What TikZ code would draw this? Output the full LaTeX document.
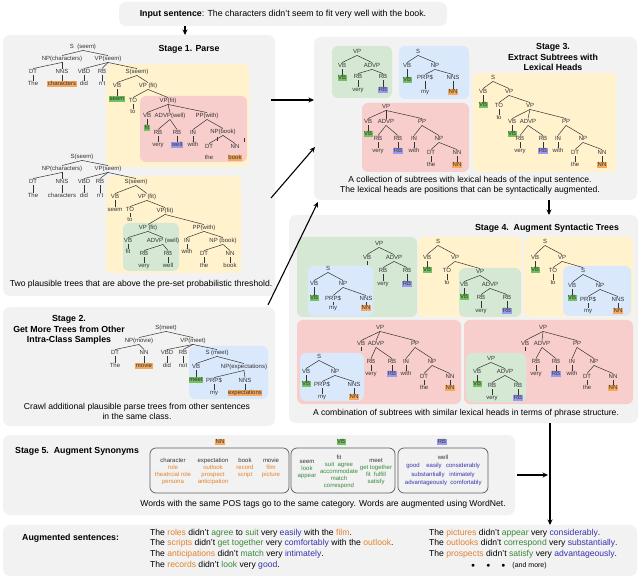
\documentclass[tikz,border=0pt]{standalone}
\usepackage{fontspec}
\setmainfont{Liberation Sans}
\usetikzlibrary{arrows.meta,fit}
\definecolor{cgray}{HTML}{F2F2F2}
\definecolor{cyel}{HTML}{FFF2CC}
\definecolor{cpink}{HTML}{F8CECC}
\definecolor{cgreen}{HTML}{D5E8D4}
\definecolor{cblue}{HTML}{DAE8FC}
\definecolor{hlorange}{HTML}{F5A95C}
\definecolor{hlgreen}{HTML}{72C15E}
\definecolor{hlblue}{HTML}{9999EE}
\definecolor{tor}{HTML}{E3822B}
\definecolor{tgr}{HTML}{38883A}
\definecolor{tbl}{HTML}{3434B0}
\definecolor{ink}{HTML}{333333}
\newcommand\TrN[5][]{\node[tl,#1] (#2) at (#3,#4) {#5};}
\newcommand\TrE[2]{\foreach \tchild in {#2}{\draw[tedge] (#1.south) -- (\tchild.north);}}
\newcommand\PanelBox[6]{\node[#6, fit={(#2,#3) (#4,#5)}, inner sep=0pt, outer sep=0pt] (#1) {};}
\begin{document}
\begin{tikzpicture}[x=1pt,y=-1pt,
  tl/.style={font=\fontsize{6}{7}\selectfont, inner sep=0.5pt, text height=4.3pt, text depth=1.2pt, text=ink},
  hO/.style={fill=hlorange}, hG/.style={fill=hlgreen}, hB/.style={fill=hlblue},
  tedge/.style={line width=0.5pt, ink},
  panel/.style={fill=cgray, rounded corners=7pt},
  ybox/.style={fill=cyel, rounded corners=6pt},
  pbox/.style={fill=cpink, rounded corners=6pt},
  gbox/.style={fill=cgreen, rounded corners=6pt},
  bbox/.style={fill=cblue, rounded corners=6pt},
  catbox/.style={draw=ink!80!white, line width=0.7pt, rounded corners=6pt},
  bigarrow/.style={line width=1.1pt, -{Stealth[length=5.5pt,width=5pt]}},
  ttl/.style={font=\fontsize{8.8}{10.5}\selectfont\bfseries, align=center, inner sep=0pt},
  captx/.style={font=\fontsize{8.6}{10}\selectfont, align=center, inner sep=0pt},
  wrd/.style={font=\fontsize{6}{7}\selectfont, align=center, inner sep=0pt, text=ink},
  sent/.style={font=\fontsize{8.6}{10}\selectfont, anchor=west, inner sep=0pt},
]
\useasboundingbox (0,0) rectangle (640,577);
% ---------- panels ----------
\PanelBox{inp}{119}{2}{447}{26}{panel}
\PanelBox{s1}{3}{35}{275}{296}{panel}
\PanelBox{s2}{3}{307}{275}{426}{panel}
\PanelBox{s3}{314}{37}{637}{200}{panel}
\PanelBox{s4}{289}{215}{638}{423}{panel}
\PanelBox{s5}{3}{435}{515}{515}{panel}
\PanelBox{aug}{3}{525}{637}{576}{panel}
% stage 1 sub boxes
\PanelBox{s1y1}{106}{64}{249}{167}{ybox}
\PanelBox{s1p1}{140}{96}{247}{162}{pbox}
\PanelBox{s1y2}{106}{176}{241}{273}{ybox}
\PanelBox{s1g2}{123}{223}{179}{271}{gbox}
% stage 2 sub box
\PanelBox{s2b}{189}{346}{268}{399}{bbox}
% stage 3 sub boxes
\PanelBox{s3g}{332}{46}{392}{98}{gbox}
\PanelBox{s3b}{399}{46}{469}{99}{bbox}
\PanelBox{s3p}{362}{103}{469}{172}{pbox}
\PanelBox{s3y}{473}{73}{616}{172}{ybox}
% stage 4 sub boxes
\PanelBox{s4a}{297}{237}{417}{317}{gbox}
\PanelBox{s4ai}{308}{266}{373}{316}{bbox}
\PanelBox{s4b}{418}{237}{522}{317}{ybox}
\PanelBox{s4bi}{459}{268}{521}{317}{gbox}
\PanelBox{s4c}{524}{237}{633}{317}{ybox}
\PanelBox{s4ci}{563}{266}{631}{316}{bbox}
\PanelBox{s4d}{297}{320}{461}{404}{pbox}
\PanelBox{s4di}{300}{353}{364}{401}{bbox}
\PanelBox{s4e}{464}{320}{633}{404}{pbox}
\PanelBox{s4ei}{466}{353}{526}{402}{gbox}
% stage 5 category boxes
\PanelBox{nnb}{150}{448}{289}{493}{catbox}
\PanelBox{vbb}{291}{448}{395}{493}{catbox}
\PanelBox{rbb}{398}{448}{488}{493}{catbox}
% ---------- titles and captions ----------
\node[font=\fontsize{8.8}{10}\selectfont, inner sep=0pt] (inptxt) at (283,14) {\textbf{Input sentence}: The characters didn't seem to fit very well with the book.};
\node[ttl] (t1) at (189,49) {Stage 1. Parse};
\node[captx] (c1) at (141,284) {Two plausible trees that are above the pre-set probabilistic threshold.};
\node[ttl] (t2) at (69,330) {Stage 2.\\Get More Trees from Other\\Intra-Class Samples};
\node[captx] (c2) at (137,411) {Crawl additional plausible parse trees from other sentences\\in the same class.};
\node[ttl] (t3) at (553,57) {Stage 3.\\Extract Subtrees with\\Lexical Heads};
\node[captx] (c3) at (470,185.5) {A collection of subtrees with lexical heads of the input sentence.\\The lexical heads are positions that can be syntactically augmented.};
\node[ttl] (t4) at (547,228) {Stage 4.\ \ Augment Syntactic Trees};
\node[captx] (c4) at (466,413) {A combination of subtrees with similar lexical heads in terms of phrase structure.};
\node[ttl, anchor=west] (t5) at (15,451) {Stage 5.\ \ Augment Synonyms};
\node[captx] (c5) at (323,504) {Words with the same POS tags go to the same category. Words are augmented using WordNet.};
\node[ttl, anchor=west] (t6) at (22,538) {Augmented sentences:};
% ---------- arrows ----------
\coordinate (a0) at (185,26); \draw[bigarrow] (a0) -- (a0 |- s1.north);
\coordinate (a1) at (271,100); \draw[bigarrow] (a1) -- (a1 -| s3.west);
\coordinate (a2s) at (271,198); \coordinate (a2e) at (315,147); \draw[bigarrow] (a2s) -- (a2e);
\coordinate (a3s) at (268,305); \coordinate (a3e) at (318,202); \draw[bigarrow] (a3s) -- (a3e);
\coordinate (a4) at (549,200); \draw[bigarrow] (a4) -- (a4 |- s4.north);
\coordinate (a5) at (550,423); \draw[bigarrow] (a5) -- (a5 |- aug.north);
\coordinate (a6) at (517,475); \coordinate (a6e) at (548,475); \draw[bigarrow] (a6) -- (a6e);
% ---------- Stage 1, tree 1 ----------
\TrN{aS}{83}{47}{S\ \ (seem)}
\TrN{aNP}{62}{59}{NP(characters)}
\TrN{aVP}{108}{59}{VP(seem)}
\TrN{aDT}{33}{72}{DT} \TrN{aThe}{33}{84}{The}
\TrN{aNNS}{62}{72}{NNS} \TrN[hO]{achar}{62}{84}{characters}
\TrN{aVBD}{84}{72}{VBD} \TrN{adid}{84}{84}{did}
\TrN{aRB}{102}{72}{RB} \TrN{ant}{102}{84}{n't}
\TrN{aS2}{137}{72}{S(seem)}
\TrN{aVB}{117}{86}{VB} \TrN[hG]{aseem}{117}{99}{seem}
\TrN{aVP2}{148}{86}{VP (fit)}
\TrN{aTO}{133}{101}{TO} \TrN{ato}{133}{112}{to}
\TrN{aVP3}{168}{101}{VP(fit)}
\TrN{aVB2}{147}{116}{VB} \TrN[hG]{afit}{147}{128}{fit}
\TrN{aADVP}{170}{116}{ADVP(well)}
\TrN{aPP}{207}{116}{PP(with)}
\TrN{aRB2}{158}{133}{RB} \TrN{avery}{158}{145}{very}
\TrN{aRB3}{177}{133}{RB} \TrN[hB]{awell}{177}{145}{well}
\TrN{aIN}{193}{133}{IN} \TrN{awith}{193}{145}{with}
\TrN{aNPb}{223}{132}{NP(book)}
\TrN{aDT2}{209}{147}{DT} \TrN{athe}{209}{158}{the}
\TrN{aNN}{235}{147}{NN} \TrN[hO]{abook}{235}{158}{book}
\TrE{aS}{aNP,aVP}
\TrE{aNP}{aDT,aNNS}
\TrE{aVP}{aVBD,aRB,aS2}
\TrE{aDT}{aThe} \TrE{aNNS}{achar} \TrE{aVBD}{adid} \TrE{aRB}{ant}
\TrE{aS2}{aVB,aVP2} \TrE{aVB}{aseem}
\TrE{aVP2}{aTO,aVP3} \TrE{aTO}{ato}
\TrE{aVP3}{aVB2,aADVP,aPP} \TrE{aVB2}{afit}
\TrE{aADVP}{aRB2,aRB3} \TrE{aRB2}{avery} \TrE{aRB3}{awell}
\TrE{aPP}{aIN,aNPb} \TrE{aIN}{awith}
\TrE{aNPb}{aDT2,aNN}
\draw[tedge] (217,137) -- (217,141);
\draw[tedge] (244,138) -- (244,142);
% ---------- Stage 1, tree 2 ----------
\TrN{bS}{82}{157}{S(seem)}
\TrN{bNP}{62}{169}{NP(characters)}
\TrN{bVP}{108}{169}{VP(seem)}
\TrN{bDT}{33}{182}{DT} \TrN{bThe}{33}{196}{The}
\TrN{bNNS}{62}{182}{NNS} \TrN{bchar}{62}{196}{characters}
\TrN{bVBD}{84}{182}{VBD} \TrN{bdid}{84}{196}{did}
\TrN{bRB}{100}{182}{RB} \TrN{bnt}{100}{196}{n't}
\TrN{bS2}{136}{182}{S(seem)}
\TrN{bVB}{115}{197}{VB} \TrN{bseem}{115}{210}{seem}
\TrN{bVP2}{147}{197}{VP (fit)}
\TrN{bTO}{130}{210}{TO} \TrN{bto}{130}{220}{to}
\TrN{bVP3}{165}{211}{VP(fit)}
\TrN{bVP4}{148}{228}{VP (fit)}
\TrN{bPP}{204}{228}{PP(with)}
\TrN{bVB2}{128}{241}{VB} \TrN{bfit}{128}{252}{fit}
\TrN{bADVP}{163}{241}{ADVP (well)}
\TrN{bRB2}{144}{254}{RB} \TrN{bvery}{144}{266}{very}
\TrN{bRB3}{168}{254}{RB} \TrN{bwell}{168}{266}{well}
\TrN{bIN}{187}{241}{IN} \TrN{bwith}{187}{252}{with}
\TrN{bNPb}{223}{241}{NP (book)}
\TrN{bDT2}{204}{254}{DT} \TrN{bthe}{204}{266}{the}
\TrN{bNN}{230}{254}{NN} \TrN{bbook}{230}{266}{book}
\TrE{bS}{bNP,bVP}
\TrE{bNP}{bDT,bNNS}
\TrE{bVP}{bVBD,bRB,bS2}
\TrE{bDT}{bThe} \TrE{bNNS}{bchar} \TrE{bVBD}{bdid} \TrE{bRB}{bnt}
\TrE{bS2}{bVB,bVP2} \TrE{bVB}{bseem}
\TrE{bVP2}{bTO,bVP3} \TrE{bTO}{bto}
\TrE{bVP3}{bVP4,bPP}
\TrE{bVP4}{bVB2,bADVP} \TrE{bVB2}{bfit}
\TrE{bADVP}{bRB2,bRB3} \TrE{bRB2}{bvery} \TrE{bRB3}{bwell}
\TrE{bPP}{bIN,bNPb} \TrE{bIN}{bwith}
\TrE{bNPb}{bDT2,bNN} \TrE{bDT2}{bthe} \TrE{bNN}{bbook}
% ---------- Stage 2 tree ----------
\TrN{cS}{166}{328}{S(meet)}
\TrN{cNP}{139}{341}{NP(movie)}
\TrN{cVP}{193}{341}{VP(meet)}
\TrN{cDT}{115}{353}{DT} \TrN{cThe}{115}{366}{The}
\TrN{cNN}{144}{353}{NN} \TrN[hO]{cmovie}{144}{366}{movie}
\TrN{cVBD}{167}{353}{VBD} \TrN{cdid}{167}{366}{did}
\TrN{cRB}{183}{353}{RB} \TrN{cnot}{183}{366}{not}
\TrN{cS2}{217}{353}{S (meet)}
\TrN{cVB}{196}{367}{VB} \TrN[hG]{cmeet}{196}{380}{meet}
\TrN{cNPe}{244}{367}{NP(expectations)}
\TrN{cPRP}{214}{381}{PRP\$} \TrN{cmy}{214}{393}{my}
\TrN{cNNS}{245}{381}{NNS} \TrN[hO]{cexp}{245}{393}{expectations}
\TrE{cS}{cNP,cVP}
\TrE{cNP}{cDT,cNN}
\TrE{cVP}{cVBD,cRB,cS2}
\TrE{cDT}{cThe} \TrE{cNN}{cmovie} \TrE{cVBD}{cdid} \TrE{cRB}{cnot}
\TrE{cS2}{cVB,cNPe} \TrE{cVB}{cmeet}
\TrE{cNPe}{cPRP,cNNS} \TrE{cPRP}{cmy} \TrE{cNNS}{cexp}
% ---------- Stage 3 trees ----------
\TrN{dVP}{357}{52}{VP}
\TrN{dVB}{342}{66}{VB} \TrN[hG]{dVBt}{342}{78}{VB}
\TrN{dADVP}{372}{66}{ADVP}
\TrN{dRB}{358}{77}{RB} \TrN{dvery}{358}{90}{very}
\TrN{dRB2}{383}{77}{RB} \TrN[hB]{dRBt}{383}{90}{RB}
\TrE{dVP}{dVB,dADVP} \TrE{dVB}{dVBt}
\TrE{dADVP}{dRB,dRB2} \TrE{dRB}{dvery} \TrE{dRB2}{dRBt}
\TrN{eS}{418}{52}{S}
\TrN{eVB}{407}{66}{VB} \TrN[hG]{eVBt}{407}{80}{VB}
\TrN{eNP}{435}{66}{NP}
\TrN{ePRP}{425}{78}{PRP\$} \TrN{emy}{425}{92}{my}
\TrN{eNNS}{453}{78}{NNS} \TrN[hO]{eNNt}{453}{92}{NN}
\TrE{eS}{eVB,eNP} \TrE{eVB}{eVBt}
\TrE{eNP}{ePRP,eNNS} \TrE{ePRP}{emy} \TrE{eNNS}{eNNt}
\TrN{fVP}{386}{107}{VP}
\TrN{fVB}{368}{122}{VB} \TrN[hG]{fVBt}{368}{134}{VB}
\TrN{fADVP}{386}{122}{ADVP}
\TrN{fPP}{422}{122}{PP}
\TrN{fRB}{378}{139}{RB} \TrN{fvery}{378}{151}{very}
\TrN{fRB2}{398}{139}{RB} \TrN[hB]{fRBt}{398}{151}{RB}
\TrN{fIN}{414}{139}{IN} \TrN{fwith}{414}{151}{with}
\TrN{fNP}{439}{139}{NP}
\TrN{fDT}{431}{153}{DT} \TrN{fthe}{431}{165}{the}
\TrN{fNN}{457}{153}{NN} \TrN[hO]{fNNt}{457}{165}{NN}
\TrE{fVP}{fVB,fADVP,fPP} \TrE{fVB}{fVBt}
\TrE{fADVP}{fRB,fRB2} \TrE{fRB}{fvery} \TrE{fRB2}{fRBt}
\TrE{fPP}{fIN,fNP} \TrE{fIN}{fwith}
\TrE{fNP}{fDT,fNN} \TrE{fDT}{fthe} \TrE{fNN}{fNNt}
\TrN{gS}{493}{78}{S}
\TrN{gVB}{483}{92}{VB} \TrN[hG]{gVBt}{483}{105}{VB}
\TrN{gVP}{509}{92}{VP}
\TrN{gTO}{499}{106}{TO} \TrN{gto}{499}{118}{to}
\TrN{gVP2}{530}{106}{VP}
\TrN{gVB2}{512}{122}{VB} \TrN[hG]{gVBt2}{512}{134}{VB}
\TrN{gADVP}{528}{122}{ADVP}
\TrN{gPP}{566}{122}{PP}
\TrN{gRB}{520}{139}{RB} \TrN{gvery}{520}{151}{very}
\TrN{gRB2}{543}{139}{RB} \TrN[hB]{gRBt}{543}{151}{RB}
\TrN{gIN}{558}{139}{IN} \TrN{gwith}{558}{151}{with}
\TrN{gNP}{583}{139}{NP}
\TrN{gDT}{575}{153}{DT} \TrN{gthe}{575}{165}{the}
\TrN{gNN}{602}{153}{NN} \TrN[hO]{gNNt}{602}{165}{NN}
\TrE{gS}{gVB,gVP} \TrE{gVB}{gVBt}
\TrE{gVP}{gTO,gVP2} \TrE{gTO}{gto}
\TrE{gVP2}{gVB2,gADVP,gPP} \TrE{gVB2}{gVBt2}
\TrE{gADVP}{gRB,gRB2} \TrE{gRB}{gvery} \TrE{gRB2}{gRBt}
\TrE{gPP}{gIN,gNP} \TrE{gIN}{gwith}
\TrE{gNP}{gDT,gNN} \TrE{gDT}{gthe} \TrE{gNN}{gNNt}
% ---------- Stage 4 trees, top row ----------
\TrN{hVP}{379}{244}{VP}
\TrN{hVB}{367}{258}{VB}
\TrN{hADVP}{394}{258}{ADVP}
\TrN{hRB}{383}{271}{RB} \TrN{hvery}{383}{284}{very}
\TrN{hRB2}{407}{271}{RB} \TrN[hB]{hRBt}{407}{284}{RB}
\coordinate (hVBe) at (367,265);
\TrE{hVP}{hVB,hADVP} \draw[tedge] (hVB.south) -- (hVBe);
\TrE{hADVP}{hRB,hRB2} \TrE{hRB}{hvery} \TrE{hRB2}{hRBt}
\TrN{iS}{328}{269}{S}
\TrN{iVB}{314}{284}{VB} \TrN[hG]{iVBt}{314}{298}{VB}
\TrN{iNP}{343}{284}{NP}
\TrN{iPRP}{333}{299}{PRP\$} \TrN{imy}{333}{308}{my}
\TrN{iNNS}{366}{299}{NNS} \TrN[hO]{iNNt}{366}{308}{NN}
\TrE{iS}{iVB,iNP} \TrE{iVB}{iVBt}
\TrE{iNP}{iPRP,iNNS} \TrE{iPRP}{imy} \TrE{iNNS}{iNNt}
\TrN{jS}{438}{242}{S}
\TrN{jVB}{427}{258}{VB} \TrN[hG]{jVBt}{427}{270}{VB}
\TrN{jVP}{455}{258}{VP}
\TrN{jTO}{447}{271}{TO} \TrN{jto}{447}{283}{to}
\TrN{kVP}{480}{272}{VP}
\TrN{kVB}{464}{285}{VB} \TrN[hG]{kVBt}{464}{297}{VB}
\TrN{kADVP}{490}{285}{ADVP}
\TrN{kRB}{481}{298}{RB} \TrN{kvery}{481}{311}{very}
\TrN{kRB2}{507}{298}{RB} \TrN[hB]{kRBt}{507}{311}{RB}
\TrE{jS}{jVB,jVP} \TrE{jVB}{jVBt}
\TrE{jVP}{jTO,kVP} \TrE{jTO}{jto}
\TrE{kVP}{kVB,kADVP} \TrE{kVB}{kVBt}
\TrE{kADVP}{kRB,kRB2} \TrE{kRB}{kvery} \TrE{kRB2}{kRBt}
\TrN{lS}{545}{242}{S}
\TrN{lVB}{535}{258}{VB} \TrN[hG]{lVBt}{535}{270}{VB}
\TrN{lVP}{562}{258}{VP}
\TrN{lTO}{553}{271}{TO} \TrN{lto}{553}{283}{to}
\TrN{mS}{583}{271}{S}
\TrN{mVB}{572}{286}{VB} \TrN[hG]{mVBt}{572}{298}{VB}
\TrN{mNP}{600}{286}{NP}
\TrN{mPRP}{588}{300}{PRP\$} \TrN{mmy}{588}{311}{my}
\TrN{mNNS}{618}{300}{NNS} \TrN[hO]{mNNt}{618}{311}{NN}
\TrE{lS}{lVB,lVP} \TrE{lVB}{lVBt}
\TrE{lVP}{lTO,mS} \TrE{lTO}{lto}
\TrE{mS}{mVB,mNP} \TrE{mVB}{mVBt}
\TrE{mNP}{mPRP,mNNS} \TrE{mPRP}{mmy} \TrE{mNNS}{mNNt}
% ---------- Stage 4 trees, bottom row ----------
\TrN{nVP}{380}{328}{VP}
\TrN{nVB}{361}{344}{VB}
\TrN{nADVP}{376}{344}{ADVP}
\TrN{nPP}{415}{344}{PP}
\TrN{nRB}{371}{362}{RB} \TrN{nvery}{371}{374}{very}
\TrN{nRB2}{392}{362}{RB} \TrN[hB]{nRBt}{392}{374}{RB}
\TrN{nIN}{406}{362}{IN} \TrN{nwith}{406}{374}{with}
\TrN{nNP}{432}{362}{NP}
\TrN{nDT}{424}{377}{DT} \TrN{nthe}{424}{388}{the}
\TrN{nNN}{450}{377}{NN} \TrN[hO]{nNNt}{450}{388}{NN}
\coordinate (nVBe) at (361,351);
\TrE{nVP}{nVB,nADVP,nPP} \draw[tedge] (nVB.south) -- (nVBe);
\TrE{nADVP}{nRB,nRB2} \TrE{nRB}{nvery} \TrE{nRB2}{nRBt}
\TrE{nPP}{nIN,nNP} \TrE{nIN}{nwith}
\TrE{nNP}{nDT,nNN} \TrE{nDT}{nthe} \TrE{nNN}{nNNt}
\TrN{oS}{319}{357}{S}
\TrN{oVB}{306}{372}{VB} \TrN[hG]{oVBt}{306}{384}{VB}
\TrN{oNP}{335}{372}{NP}
\TrN{oPRP}{322}{385}{PRP\$} \TrN{omy}{322}{397}{my}
\TrN{oNNS}{354}{385}{NNS} \TrN[hO]{oNNt}{354}{397}{NN}
\TrE{oS}{oVB,oNP} \TrE{oVB}{oVBt}
\TrE{oNP}{oPRP,oNNS} \TrE{oPRP}{omy} \TrE{oNNS}{oNNt}
\TrN{pVP}{543}{328}{VP}
\TrN{pVB}{525}{344}{VB}
\TrN{pADVP}{542}{344}{ADVP}
\TrN{pPP}{577}{344}{PP}
\TrN{pRB}{536}{362}{RB} \TrN{pvery}{536}{374}{very}
\TrN{pRB2}{556}{362}{RB} \TrN[hB]{pRBt}{556}{374}{RB}
\TrN{pIN}{572}{362}{IN} \TrN{pwith}{572}{374}{with}
\TrN{pNP}{594}{362}{NP}
\TrN{pDT}{587}{377}{DT} \TrN{pthe}{587}{388}{the}
\TrN{pNN}{613}{377}{NN} \TrN[hO]{pNNt}{613}{388}{NN}
\coordinate (pVBe) at (525,351);
\TrE{pVP}{pVB,pADVP,pPP} \draw[tedge] (pVB.south) -- (pVBe);
\TrE{pADVP}{pRB,pRB2} \TrE{pRB}{pvery} \TrE{pRB2}{pRBt}
\TrE{pPP}{pIN,pNP} \TrE{pIN}{pwith}
\TrE{pNP}{pDT,pNN} \TrE{pDT}{pthe} \TrE{pNN}{pNNt}
\TrN{qVP}{491}{359}{VP}
\TrN{qVB}{477}{372}{VB} \TrN[hG]{qVBt}{477}{384}{VB}
\TrN{qADVP}{505}{372}{ADVP}
\TrN{qRB}{492}{386}{RB} \TrN{qvery}{492}{398}{very}
\TrN{qRB2}{518}{386}{RB} \TrN[hB]{qRBt}{518}{398}{RB}
\TrE{qVP}{qVB,qADVP} \TrE{qVB}{qVBt}
\TrE{qADVP}{qRB,qRB2} \TrE{qRB}{qvery} \TrE{qRB2}{qRBt}
% ---------- Stage 5 words ----------
\TrN[hO]{nntag}{220}{442}{NN}
\TrN[hG]{vbtag}{341}{442}{VB}
\TrN[hB]{rbtag}{442}{442}{RB}
\node[wrd] (w1) at (173,471.5) {character\\\textcolor{tor}{role}\\\textcolor{tor}{theatrcial role}\\\textcolor{tor}{persona}};
\node[wrd] (w2) at (213,471.5) {expectation\\\textcolor{tor}{outlook}\\\textcolor{tor}{prospect}\\\textcolor{tor}{anticipation}};
\node[wrd] (w3) at (245,468) {book\\\textcolor{tor}{record}\\\textcolor{tor}{script}};
\node[wrd] (w4) at (271,468) {movie\\\textcolor{tor}{film}\\\textcolor{tor}{picture}};
\node[wrd] (w5) at (307,470) {seem\\\textcolor{tgr}{look}\\\textcolor{tgr}{appear}};
\node[wrd] (w6) at (339,472) {fit\\\textcolor{tgr}{suit\ \ agree}\\\textcolor{tgr}{accommodate}\\\textcolor{tgr}{match}\\\textcolor{tgr}{correspond}};
\node[wrd] (w7) at (376,471.5) {meet\\\textcolor{tgr}{get together}\\\textcolor{tgr}{fit\ \ fulfill}\\\textcolor{tgr}{satisfy}};
\node[wrd] (w8) at (443,457) {well};
\node[wrd, text=tbl] (w9) at (413,466) {good};
\node[wrd, text=tbl] (w10) at (434,466) {easily};
\node[wrd, text=tbl] (w11) at (463,466) {considerably};
\node[wrd, text=tbl] (w12) at (428,474.5) {substantially};
\node[wrd, text=tbl] (w13) at (462,474.5) {intimately};
\node[wrd, text=tbl] (w14) at (426,483) {advantageously};
\node[wrd, text=tbl] (w15) at (466,483) {comfortably};
% ---------- augmented sentences ----------
\node[sent] (l1) at (150,533) {The \textcolor{tor}{roles} didn't \textcolor{tgr}{agree} to \textcolor{tgr}{suit} very \textcolor{tbl}{easily} with the \textcolor{tor}{film}.};
\node[sent] (l2) at (150,543.5) {The \textcolor{tor}{scripts} didn't \textcolor{tgr}{get together} very \textcolor{tbl}{comfortably} with the \textcolor{tor}{outlook}.};
\node[sent] (l3) at (150,554) {The \textcolor{tor}{anticipations} didn't \textcolor{tgr}{match} very \textcolor{tbl}{intimately}.};
\node[sent] (l4) at (150,565) {The \textcolor{tor}{records} didn't \textcolor{tgr}{look} very \textcolor{tbl}{good}.};
\node[sent] (r1) at (429,533) {The \textcolor{tor}{pictures} didn't \textcolor{tgr}{appear} very \textcolor{tbl}{considerably}.};
\node[sent] (r2) at (429,543.5) {The \textcolor{tor}{outlooks} didn't \textcolor{tgr}{correspond} very \textcolor{tbl}{substantially}.};
\node[sent] (r3) at (429,554) {The \textcolor{tor}{prospects} didn't \textcolor{tgr}{satisfy} very \textcolor{tbl}{advantageously}.};
\node[sent, font=\fontsize{7}{8}\selectfont] (r4) at (471,566) {$\bullet$\hspace{11pt}$\bullet$\hspace{11pt}$\bullet$\hspace{7pt}(and more)};
\end{tikzpicture}
\end{document}
